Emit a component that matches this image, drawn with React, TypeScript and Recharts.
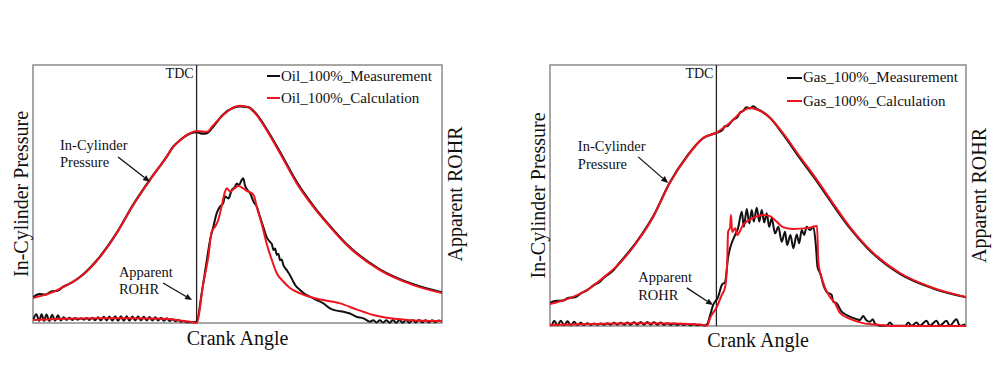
import React from 'react';
import { LineChart, Line, XAxis, YAxis, ReferenceLine, ReferenceArea, ReferenceDot, Legend } from 'recharts';

type Pt = [number, number];

const FONT = '"Liberation Serif", "Times New Roman", serif';
const BLACK = '#111111';
const RED = '#f0141e';

const crankDomain: [number, number] = [-40, 60];
const valueDomain: [number, number] = [0, 100];

const oilSeriesNames = ['Oil_100%_Measurement', 'Oil_100%_Calculation'];
const gasSeriesNames = ['Gas_100%_Measurement', 'Gas_100%_Calculation'];
const axisTitles = { x: 'Crank Angle', left: 'In-Cylinder Pressure', right: 'Apparent ROHR' };
const markerTdc = 'TDC';
const notePressure = ['In-Cylinder', 'Pressure'];
const noteRohr = ['Apparent', 'ROHR'];

// ---------- Oil panel ----------
const oilPressureMeas: Pt[] = [
  [-40, 9.9], [-38.5, 11.2], [-37, 11.0], [-35.5, 12.2], [-34, 12.5], [-32.5, 14.2], [-31.7, 14.7],
  [-27.8, 18.8], [-23.6, 25.8], [-19.5, 35.0], [-15.5, 45.9], [-11.4, 55.6], [-7.3, 64.5], [-5.7, 68.4],
  [-4.1, 70.8], [-2.3, 72.9], [-1.0, 73.8], [0, 74.0], [1.5, 73.4], [2.5, 73.6], [4.1, 76.2], [6.5, 80.8],
  [9.0, 83.4], [10.6, 84.0], [12.6, 83.7], [14.7, 80.8], [17.1, 75.2], [20.4, 66.3], [24.5, 54.6],
  [28.5, 45.5], [32.6, 37.6], [36.7, 30.5], [44.8, 20.8], [53.0, 15.0], [60, 11.9],
];
const oilPressureCalc: Pt[] = [
  [-40, 9.7], [-35.8, 11.6], [-31.7, 14.7], [-27.8, 18.6], [-23.6, 25.6], [-19.5, 34.9], [-15.5, 45.7],
  [-11.4, 55.4], [-7.3, 64.5], [-5.7, 68.3], [-4.1, 70.7], [-2.3, 73.0], [-1.0, 74.0], [0, 74.4],
  [2.5, 74.1], [4.1, 76.7], [6.5, 80.6], [9.0, 83.6], [10.6, 84.2], [12.6, 83.6], [14.7, 80.6], [17.1, 74.8],
  [20.4, 65.8], [24.5, 54.1], [28.5, 45.1], [32.6, 37.3], [36.7, 30.2], [44.8, 20.5], [53.0, 14.7], [60, 11.6],
];
const oilRohrMeas: Pt[] = [
  [-40, 1.0], [-39.2, 3.4], [-38.5, 0.8], [-37.9, 3.4], [-37.3, 0.8], [-36.7, 3.3], [-36.0, 0.8], [-35.3, 3.2],
  [-34.6, 0.9], [-33.9, 3.0], [-33.2, 1.0], [-32.5, 2.2], [-31.8, 1.2], [-31.1, 2.0], [-30.4, 1.2], [-29.7, 1.9],
  [-29.0, 1.3], [-28.3, 1.8], [-27.6, 1.3], [-26.9, 1.9], [-26.2, 1.2], [-25.5, 2.0], [-24.8, 1.1], [-24.1, 2.2],
  [-23.4, 1.0], [-22.7, 2.4], [-22.0, 1.0], [-21.3, 2.5], [-20.6, 0.9], [-19.9, 2.6], [-19.2, 0.9], [-18.5, 2.6],
  [-17.8, 0.9], [-17.1, 2.6], [-16.4, 0.9], [-15.7, 2.5], [-15.0, 1.0], [-14.3, 2.5], [-13.6, 1.0], [-12.9, 2.4],
  [-12.2, 1.0], [-11.5, 2.3], [-10.8, 1.0], [-10.1, 2.2], [-9.4, 1.0], [-8.7, 2.0], [-8.0, 0.9], [-7.3, 1.8],
  [-6.6, 0.8], [-5.9, 1.5], [-5.2, 0.7], [-4.5, 1.2], [-3.8, 0.5], [-3.1, 0.8], [-2.4, 0.3], [0.0, 0.5],
  [1.24, 11.5], [2.5, 24.4], [3.3, 32.2], [4.1, 37.3], [4.9, 42.5], [5.7, 45.1], [6.5, 46.4], [6.95, 49.0],
  [7.8, 48.3], [8.6, 51.6], [9.4, 52.8], [9.8, 54.1], [10.4, 53.5], [11.0, 55.4], [11.4, 56.1], [11.8, 53.5],
  [12.4, 51.6], [13.1, 50.3], [13.9, 47.1], [14.7, 45.1], [15.5, 41.2], [16.3, 37.3], [17.1, 33.4], [17.9, 31.5],
  [18.4, 30.6], [18.8, 28.3], [19.2, 28.9], [19.6, 26.4], [20.0, 26.8], [20.4, 24.4], [20.8, 24.6], [21.2, 22.5],
  [22.0, 20.6], [22.8, 18.6], [23.5, 16.5], [24.1, 14.7], [25.3, 12.8], [26.5, 11.2], [27.7, 10.2], [29.4, 8.9],
  [31.0, 7.6], [32.6, 5.7], [34.2, 4.8], [35.9, 4.4], [37.5, 3.7], [39.1, 2.4], [40.8, 1.8], [42.4, 0.5],
  [43.2, 1.1], [44.0, 0.2], [44.8, 1.1], [45.6, 0.2], [46.4, 1.1], [47.2, 0.1], [48.0, 1.2], [48.8, 0.1],
  [49.6, 1.2], [50.4, 0.1], [51.2, 1.2], [52.0, 0.1], [52.8, 1.2], [53.6, 0.2], [54.4, 1.2], [55.2, 0.2],
  [56.0, 1.1], [56.8, 0.2], [57.6, 1.1], [58.4, 0.3], [59.2, 1.0], [60, 0.5],
];
const oilRohrCalc: Pt[] = [
  [-40, 1.2], [-32.6, 1.6], [-24.4, 1.8], [-16.3, 1.8], [-8.1, 1.6], [-4.9, 1.2], [-1.6, 0.5], [0, 0],
  [1.65, 15.4], [2.87, 25.7], [3.69, 35.4], [4.5, 37.3], [5.3, 39.9], [6.1, 45.1], [6.95, 50.9], [7.4, 52.2],
  [8.2, 50.9], [9.0, 51.8], [10.2, 53.1], [11.4, 52.2], [12.6, 50.9], [13.5, 50.3], [14.1, 49.0], [14.7, 45.1],
  [15.9, 38.6], [17.1, 30.9], [18.4, 24.4], [19.6, 19.3], [21.2, 16.1], [22.8, 13.6], [25.3, 11.5],
  [28.9, 9.6], [35.1, 7.6], [39.1, 5.3], [43.2, 3.1], [47.3, 1.8], [51.4, 1.2], [55.4, 0.9], [60, 0.8],
];

// ---------- Gas panel ----------
const gasPressureMeas: Pt[] = [
  [-40, 8.8], [-38.5, 9.6], [-37, 9.7], [-35.5, 10.8], [-34, 11.0], [-32.5, 12.6], [-31, 13.8], [-29.5, 15.6],
  [-28, 17.0], [-27, 18.6], [-25, 21.0], [-23.2, 24.3], [-19.1, 32.4], [-15.2, 42.0], [-11.2, 55.0],
  [-7.1, 65.0], [-3.2, 72.0], [0, 74.0], [1.5, 75.2], [2.0, 76.5], [2.6, 76.6], [4.0, 79.0], [5.0, 80.0],
  [5.7, 81.8], [6.5, 82.5], [7.2, 83.8], [8.1, 83.4], [8.9, 84.2], [9.6, 83.3], [10.5, 82.6], [12.9, 79.8],
  [16.0, 73.5], [20.1, 64.2], [24.2, 55.3], [28.0, 46.5], [32.1, 37.5], [36.2, 30.0], [44.1, 20.0],
  [52.1, 14.4], [60, 11.0],
];
const gasPressureCalc: Pt[] = [
  [-40, 8.4], [-35.2, 10.7], [-31.1, 13.8], [-27.3, 18.4], [-23.2, 24.1], [-19.1, 32.2], [-15.2, 41.8],
  [-11.2, 54.8], [-7.1, 64.8], [-3.2, 72.0], [0, 74.1], [2.6, 77.0], [4.0, 78.9], [5.7, 81.6], [8.1, 83.5],
  [10.5, 82.4], [12.9, 79.7], [16.0, 73.9], [20.1, 64.8], [24.2, 55.9], [28.0, 47.1], [32.1, 37.9],
  [36.2, 30.3], [44.1, 20.3], [52.1, 14.6], [60, 11.1],
];
const gasRohrMeas: Pt[] = [
  [-40, 0.3], [-39.6, 0.4], [-39.0, 2.0], [-38.2, 0.3], [-37.4, 2.0], [-36.6, 0.3], [-35.8, 1.8], [-35.0, 0.3],
  [-34.2, 1.6], [-33.4, 0.4], [-32.6, 1.2], [-31.8, 0.4], [-31.0, 1.1], [-30.2, 0.4], [-29.4, 1.0], [-28.6, 0.5],
  [-27.8, 1.0], [-27.0, 0.5], [-26.2, 1.1], [-25.4, 0.5], [-24.6, 1.2], [-23.8, 0.5], [-23.0, 1.2], [-22.2, 0.5],
  [-21.4, 1.3], [-20.6, 0.5], [-19.8, 1.4], [-19.0, 0.5], [-18.2, 1.5], [-17.4, 0.5], [-16.6, 1.5], [-15.8, 0.5],
  [-15.0, 1.4], [-14.2, 0.5], [-13.4, 1.3], [-12.6, 0.4], [-11.8, 1.1], [-11.0, 0.4], [-10.2, 1.0], [-9.4, 0.4],
  [-8.6, 0.9], [-7.8, 0.4], [-7.0, 0.8], [-6.2, 0.3], [-5.4, 0.7], [-4.6, 0.3], [-3.8, 0.5], [-3.0, 0.2],
  [-2.2, 0.8], [-1.5, 4.2], [-0.8, 8.0], [0.4, 11.1], [1.3, 15.7], [2.1, 16.9], [2.8, 26.1], [3.3, 29.9],
  [3.6, 31.4], [4.5, 34.9], [5.2, 37.5], [6.1, 43.8], [6.6, 38.0], [7.3, 44.8], [7.9, 39.3], [8.5, 44.4],
  [9.0, 40.0], [9.7, 45.3], [10.3, 40.0], [10.9, 44.4], [11.5, 39.7], [12.1, 43.2], [12.7, 38.0], [13.3, 41.3],
  [14.1, 35.5], [14.9, 38.0], [15.7, 32.3], [16.5, 36.1], [17.0, 31.0], [17.8, 34.9], [18.5, 29.8], [19.3, 35.1],
  [19.9, 31.7], [20.5, 36.8], [21.1, 34.9], [21.7, 38.0], [22.5, 36.8], [23.3, 38.0], [23.9, 31.0], [24.3, 22.7],
  [25.1, 19.5], [25.7, 15.7], [26.5, 13.1], [27.7, 11.9], [28.1, 9.3], [28.9, 8.7], [30.1, 5.5], [31.3, 4.2],
  [32.5, 3.3], [33.7, 2.6], [34.5, 2.3], [35.3, 3.8], [36.0, 2.3], [36.9, 1.6], [37.6, 2.6], [38.1, 1.0],
  [39.3, 0.1], [41.0, 0.2], [41.7, 1.3], [42.5, 0.1], [45.4, 0.1], [46.1, 1.3], [46.9, 0.1], [48.1, 1.3],
  [48.9, 0.1], [50.5, 2.0], [51.3, 0.1], [52.9, 2.0], [53.7, 0.1], [55.3, 2.0], [56.1, 0.1], [57.7, 2.6],
  [58.5, 0.1], [59.8, 0.6],
];
const gasRohrCalc: Pt[] = [
  [-40, 0.4], [-30, 0.8], [-20, 1.1], [-10, 1.0], [-4, 0.6], [-2.2, 0.2], [-1.5, 3.1], [0.1, 7.3],
  [1.3, 11.9], [2.1, 14.9], [2.6, 24.5], [2.8, 36.0], [3.3, 37.9], [3.5, 42.5], [3.8, 36.0], [4.5, 37.5],
  [5.0, 34.9], [6.4, 38.7], [8.8, 41.4], [11.2, 42.5], [12.9, 42.1], [14.6, 39.8], [16.0, 37.9], [18.4, 37.2],
  [21.8, 37.5], [24.2, 38.3], [24.5, 24.5], [25.6, 16.9], [27.3, 11.1], [28.5, 8.8], [29.7, 5.0], [32.1, 2.7],
  [35.2, 1.1], [39.3, 0.4], [42, 0], [60, 0],
];

const toRows = (pts: Pt[]) => pts.map(([a, v]) => ({ a, v }));

const ArrowShape = (props: any) => {
  const { x1, y1, x2, y2 } = props;
  const ang = Math.atan2(y2 - y1, x2 - x1);
  const L = 7;
  const W = 3;
  const bx = x2 - L * Math.cos(ang);
  const by = y2 - L * Math.sin(ang);
  const p1x = bx + W * Math.sin(ang);
  const p1y = by - W * Math.cos(ang);
  const p2x = bx - W * Math.sin(ang);
  const p2y = by + W * Math.cos(ang);
  return (
    <g>
      <line x1={x1} y1={y1} x2={bx} y2={by} stroke={BLACK} strokeWidth={1.3} />
      <polygon points={`${x2},${y2} ${p1x},${p1y} ${p2x},${p2y}`} fill={BLACK} />
    </g>
  );
};

const makeNote = (lines: string[], lh: number) => (props: any) => (
  <text x={props.cx} y={props.cy} fontFamily={FONT} fontSize={14.5} fill={BLACK}>
    {lines.map((l, i) => (
      <tspan key={i} x={props.cx} dy={i === 0 ? 0 : lh}>{l}</tspan>
    ))}
  </text>
);

const LegendBox = (props: any) => {
  const order: string[] = props.order || [];
  const items = (props.payload || [])
    .filter((p: any) => p.type !== 'none' && order.indexOf(p.value) >= 0)
    .slice()
    .sort((a: any, b: any) => order.indexOf(a.value) - order.indexOf(b.value));
  return (
    <div style={{ fontFamily: FONT, fontSize: 15, lineHeight: `${props.rowH}px`, color: BLACK }}>
      {items.map((it: any) => (
        <div key={it.value} style={{ display: 'flex', alignItems: 'center', whiteSpace: 'nowrap' }}>
          <span style={{ display: 'inline-block', width: props.sw, height: 2, background: it.color, marginRight: 1 }} />
          <span>{it.value}</span>
        </div>
      ))}
    </div>
  );
};

type PanelProps = {
  left: number;
  margin: { top: number; left: number; right: number; bottom: number };
  xAxisHeight: number;
  pMeas: Pt[];
  pCalc: Pt[];
  rMeas: Pt[];
  rCalc: Pt[];
  names: string[];
  legendLeft: number;
  legendTop: number;
  legendRow: number;
  legendSw: number;
  notes: {
    pText: [number, number];
    pArrow: [[number, number], [number, number]];
    rText: [number, number];
    rArrow: [[number, number], [number, number]];
    lh: number;
  };
};

const labelStyle = { fontFamily: FONT, fontSize: 20, fill: BLACK };

const Panel = (p: PanelProps) => (
  <div style={{ position: 'absolute', left: p.left, top: 0 }}>
    <LineChart width={500} height={372} margin={p.margin}>
      <XAxis
        dataKey="a"
        type="number"
        domain={crankDomain}
        allowDataOverflow
        tick={false}
        tickLine={false}
        axisLine={false}
        height={p.xAxisHeight}
        label={{ value: axisTitles.x, position: 'center', ...labelStyle }}
      />
      <YAxis
        yAxisId="p"
        type="number"
        domain={valueDomain}
        tick={false}
        tickLine={false}
        axisLine={false}
        width={25}
        label={{ value: axisTitles.left, angle: -90, position: 'center', ...labelStyle }}
      />
      <YAxis
        yAxisId="r"
        orientation="right"
        type="number"
        domain={valueDomain}
        tick={false}
        tickLine={false}
        axisLine={false}
        width={25}
        label={{ value: axisTitles.right, angle: -90, position: 'center', ...labelStyle }}
      />
      <ReferenceArea
        yAxisId="p"
        x1={crankDomain[0]}
        x2={crankDomain[1]}
        y1={valueDomain[0]}
        y2={valueDomain[1]}
        fill="none"
        fillOpacity={0}
        stroke="#8a8a8a"
        strokeWidth={1.5}
        ifOverflow="visible"
      />
      <ReferenceLine
        yAxisId="p"
        x={0}
        stroke="#222"
        strokeWidth={1.3}
        label={{ value: markerTdc, position: 'insideTopRight', offset: 3, fontFamily: FONT, fontSize: 14, fill: BLACK }}
      />
      <Line yAxisId="p" data={toRows(p.pMeas)} dataKey="v" name={p.names[0]} type="monotone" stroke={BLACK} strokeWidth={2.2} dot={false} activeDot={false} isAnimationActive={false} />
      <Line yAxisId="r" data={toRows(p.rMeas)} dataKey="v" name="rohrMeas" legendType="none" type="monotone" stroke={BLACK} strokeWidth={2} dot={false} activeDot={false} isAnimationActive={false} />
      <Line yAxisId="p" data={toRows(p.pCalc)} dataKey="v" name={p.names[1]} type="monotone" stroke={RED} strokeWidth={2} dot={false} activeDot={false} isAnimationActive={false} />
      <Line yAxisId="r" data={toRows(p.rCalc)} dataKey="v" name="rohrCalc" legendType="none" type="monotone" stroke={RED} strokeWidth={2} dot={false} activeDot={false} isAnimationActive={false} />
      <ReferenceLine
        yAxisId="p"
        segment={[{ x: p.notes.pArrow[0][0], y: p.notes.pArrow[0][1] }, { x: p.notes.pArrow[1][0], y: p.notes.pArrow[1][1] }]}
        shape={ArrowShape}
        ifOverflow="visible"
      />
      <ReferenceLine
        yAxisId="p"
        segment={[{ x: p.notes.rArrow[0][0], y: p.notes.rArrow[0][1] }, { x: p.notes.rArrow[1][0], y: p.notes.rArrow[1][1] }]}
        shape={ArrowShape}
        ifOverflow="visible"
      />
      <ReferenceDot yAxisId="p" x={p.notes.pText[0]} y={p.notes.pText[1]} r={1} shape={makeNote(notePressure, p.notes.lh)} ifOverflow="visible" />
      <ReferenceDot yAxisId="p" x={p.notes.rText[0]} y={p.notes.rText[1]} r={1} shape={makeNote(noteRohr, p.notes.lh)} ifOverflow="visible" />
      <Legend
        layout="vertical"
        align="center"
        verticalAlign="middle"
        itemSorter={null as any}
        wrapperStyle={{ left: p.legendLeft, top: p.legendTop, width: 'auto', height: 'auto' }}
        content={(lp: any) => <LegendBox {...lp} order={p.names} rowH={p.legendRow} sw={p.legendSw} />}
      />
    </LineChart>
  </div>
);

export default function App() {
  return (
    <div style={{ position: 'absolute', left: 0, top: 0, width: 1000, height: 372, background: '#fff', overflow: 'hidden' }}>
      <Panel
        left={0}
        margin={{ top: 65, left: 8, right: 33, bottom: 19 }}
        xAxisHeight={30}
        pMeas={oilPressureMeas}
        pCalc={oilPressureCalc}
        rMeas={oilRohrMeas}
        rCalc={oilRohrCalc}
        names={oilSeriesNames}
        legendLeft={267}
        legendTop={65}
        legendRow={22}
        legendSw={13}
        notes={{
          pText: [-33.4, 67.1],
          pArrow: [[-19.2, 64.3], [-11.4, 54.7]],
          rText: [-19.0, 17.8],
          rArrow: [[-8.2, 15.5], [-1.1, 8.9]],
          lh: 17,
        }}
      />
      <Panel
        left={500}
        margin={{ top: 65, left: 25, right: 9, bottom: 18 }}
        xAxisHeight={28}
        pMeas={gasPressureMeas}
        pCalc={gasPressureCalc}
        rMeas={gasRohrMeas}
        rCalc={gasRohrCalc}
        names={gasSeriesNames}
        legendLeft={287}
        legendTop={66}
        legendRow={23.5}
        legendSw={15}
        notes={{
          pText: [-33.3, 67.0],
          pArrow: [[-18.8, 64.8], [-11.6, 54.8]],
          rText: [-18.8, 16.9],
          rArrow: [[-7.1, 14.6], [-0.8, 8.0]],
          lh: 18,
        }}
      />
    </div>
  );
}
